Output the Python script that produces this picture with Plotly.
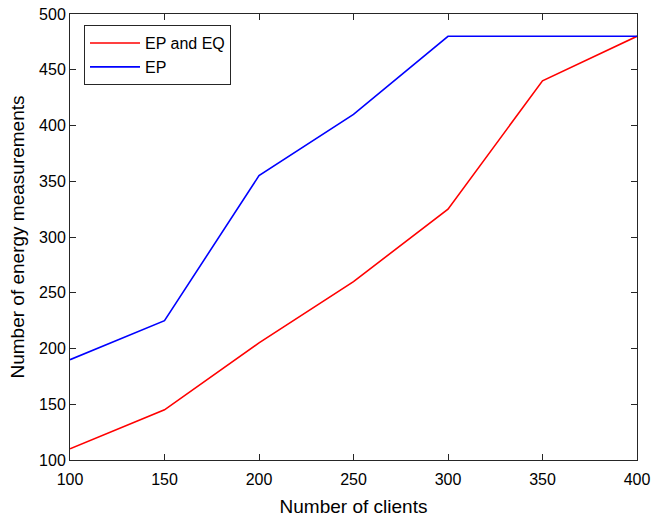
import plotly.graph_objects as go

clients = [100, 150, 200, 250, 300, 350, 400]
ep_eq = [110, 145, 205, 260, 325, 440, 480]
ep = [190, 225, 355, 410, 480, 480, 480]

FONT = "Liberation Sans, Arial"
fig = go.Figure()
fig.add_trace(go.Scatter(x=clients, y=ep_eq, mode="lines", name="EP and EQ",
                         line=dict(color="#ff0000", width=1.6)))
fig.add_trace(go.Scatter(x=clients, y=ep, mode="lines", name="EP",
                         line=dict(color="#0000ff", width=1.6)))

axis_common = dict(showgrid=False, zeroline=False, showline=True, linecolor="#262626",
                   linewidth=1, ticks="inside", ticklen=6, tickcolor="#262626",
                   mirror="allticks", automargin=False, ticklabeloverflow="allow",
                   tickfont=dict(family=FONT, size=16, color="#000"))
fig.update_xaxes(range=[100, 400], tickvals=[100, 150, 200, 250, 300, 350, 400],
                 ticklabelstandoff=5,
                 title=dict(text="Number of clients", font=dict(family=FONT, size=19, color="#000"), standoff=17),
                 **axis_common)
fig.update_yaxes(range=[100, 500], tickvals=[100, 150, 200, 250, 300, 350, 400, 450, 500],
                 title=dict(text="Number of energy measurements", font=dict(family=FONT, size=19, color="#000"), standoff=9),
                 **axis_common)
fig.update_layout(width=651, height=517, margin=dict(l=70, r=14, t=14, b=57),
                  plot_bgcolor="white", paper_bgcolor="white",
                  legend=dict(x=0.0247, y=0.975, xanchor="left", yanchor="top",
                              bordercolor="#262626", borderwidth=1, bgcolor="white",
                              font=dict(family=FONT, size=16, color="#000"),
                              tracegroupgap=0, itemwidth=50))
# remove the page's default 8px body margin so the figure fills the window exactly
fig.write_html("out.html", config={"displayModeBar": False},
               post_script="document.body.style.margin='0';document.body.style.overflow='hidden';")
